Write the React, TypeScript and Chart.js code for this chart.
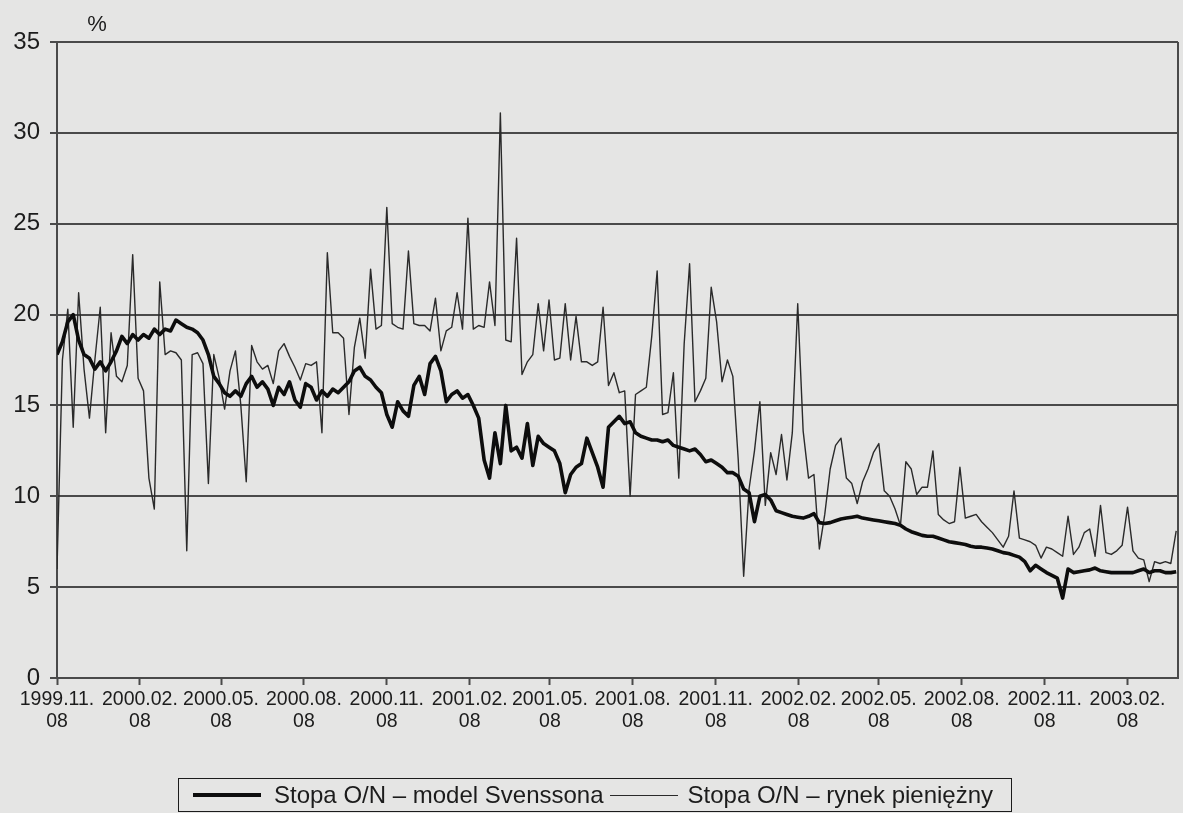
import React, { useEffect, useRef } from "react";
import { Chart, registerables } from "chart.js";

Chart.register(...registerables);

// ---------- data ----------
const START_DATE = "1999-11-08";
const STEP_DAYS = 6; // one reading every 6 calendar days
const X_MAX_DAYS = 1244;

const tickDates = [
  "1999-11-08", "2000-02-08", "2000-05-08", "2000-08-08", "2000-11-08",
  "2001-02-08", "2001-05-08", "2001-08-08", "2001-11-08", "2002-02-08",
  "2002-05-08", "2002-08-08", "2002-11-08", "2003-02-08",
];
const tickLabels = [
  ["1999.11.", "08"], ["2000.02.", "08"], ["2000.05.", "08"], ["2000.08.", "08"],
  ["2000.11.", "08"], ["2001.02.", "08"], ["2001.05.", "08"], ["2001.08.", "08"],
  ["2001.11.", "08"], ["2002.02.", "08"], ["2002.05.", "08"], ["2002.08.", "08"],
  ["2002.11.", "08"], ["2003.02.", "08"],
];
const yTicks = [0, 5, 10, 15, 20, 25, 30, 35];
const seriesNames = ["Stopa O/N \u2013 model Svenssona", "Stopa O/N \u2013 rynek pieni\u0119\u017cny"];

const modelSvensson = [
  17.8, 18.5, 19.6, 20.0, 18.6, 17.8, 17.6, 17.0, 17.4, 16.9,
  17.4, 18.0, 18.8, 18.4, 18.9, 18.6, 18.9, 18.7, 19.2, 18.9,
  19.2, 19.1, 19.7, 19.5, 19.3, 19.2, 19.0, 18.6, 17.8, 16.6,
  16.2, 15.7, 15.5, 15.8, 15.5, 16.2, 16.6, 16.0, 16.3, 15.9,
  15.0, 16.0, 15.6, 16.3, 15.3, 14.9, 16.2, 16.0, 15.3, 15.8,
  15.5, 15.9, 15.7, 16.0, 16.3, 16.9, 17.1, 16.6, 16.4, 16.0,
  15.7, 14.5, 13.8, 15.2, 14.7, 14.4, 16.1, 16.6, 15.6, 17.3,
  17.7, 16.9, 15.2, 15.6, 15.8, 15.4, 15.6, 15.0, 14.3, 12.0,
  11.0, 13.5, 11.8, 15.0, 12.5, 12.7, 12.1, 14.0, 11.7, 13.3,
  12.9, 12.7, 12.5, 11.8, 10.2, 11.2, 11.6, 11.8, 13.2, 12.4,
  11.6, 10.5, 13.8, 14.1, 14.4, 14.0, 14.1, 13.5, 13.3, 13.2,
  13.1, 13.1, 13.0, 13.1, 12.8, 12.7, 12.6, 12.5, 12.6, 12.3,
  11.9, 12.0, 11.8, 11.6, 11.3, 11.3, 11.1, 10.4, 10.2, 8.6,
  10.0, 10.1, 9.8, 9.2, 9.1, 9.0, 8.9, 8.85, 8.8, 8.9,
  9.05, 8.55, 8.5, 8.55, 8.65, 8.75, 8.8, 8.85, 8.9, 8.8,
  8.75, 8.7, 8.65, 8.6, 8.55, 8.5, 8.4, 8.2, 8.05, 7.95,
  7.85, 7.8, 7.8, 7.7, 7.6, 7.5, 7.45, 7.4, 7.35, 7.25,
  7.2, 7.2, 7.15, 7.1, 7.0, 6.9, 6.85, 6.75, 6.65, 6.4,
  5.9, 6.2, 6.0, 5.8, 5.65, 5.5, 4.4, 6.0, 5.8, 5.85,
  5.9, 5.95, 6.05, 5.9, 5.85, 5.8, 5.8, 5.8, 5.8, 5.8,
  5.9, 6.0, 5.8, 5.9, 5.9, 5.8, 5.8, 5.85,
];

const marketRate = [
  6.0, 17.5, 20.3, 13.8, 21.2, 17.0, 14.3, 17.5, 20.4, 13.5,
  19.0, 16.6, 16.3, 17.2, 23.3, 16.5, 15.8, 11.0, 9.3, 21.8,
  17.8, 18.0, 17.9, 17.5, 7.0, 17.8, 17.9, 17.3, 10.7, 17.8,
  16.5, 14.8, 16.9, 18.0, 15.0, 10.8, 18.3, 17.4, 17.0, 17.2,
  16.2, 18.0, 18.4, 17.7, 17.1, 16.4, 17.3, 17.2, 17.4, 13.5,
  23.4, 19.0, 19.0, 18.7, 14.5, 18.2, 19.8, 17.6, 22.5, 19.2,
  19.4, 25.9, 19.5, 19.3, 19.2, 23.5, 19.5, 19.4, 19.4, 19.1,
  20.9, 18.0, 19.1, 19.3, 21.2, 19.2, 25.3, 19.2, 19.4, 19.3,
  21.8, 19.4, 31.1, 18.6, 18.5, 24.2, 16.7, 17.4, 17.8, 20.6,
  18.0, 20.8, 17.5, 17.6, 20.6, 17.5, 19.9, 17.4, 17.4, 17.2,
  17.4, 20.4, 16.1, 16.8, 15.7, 15.8, 10.0, 15.6, 15.8, 16.0,
  18.8, 22.4, 14.5, 14.6, 16.8, 11.0, 18.4, 22.8, 15.2, 15.8,
  16.5, 21.5, 19.6, 16.3, 17.5, 16.6, 12.0, 5.6, 10.4, 12.5,
  15.2, 9.5, 12.4, 11.2, 13.4, 10.9, 13.5, 20.6, 13.6, 11.0,
  11.2, 7.1, 9.0, 11.5, 12.8, 13.2, 11.0, 10.7, 9.6, 10.8,
  11.5, 12.4, 12.9, 10.3, 10.0, 9.3, 8.4, 11.9, 11.5, 10.1,
  10.5, 10.5, 12.5, 9.0, 8.7, 8.5, 8.6, 11.6, 8.8, 8.9,
  9.0, 8.6, 8.3, 8.0, 7.6, 7.2, 7.8, 10.3, 7.7, 7.6,
  7.5, 7.3, 6.6, 7.2, 7.1, 6.9, 6.7, 8.9, 6.8, 7.2,
  8.0, 8.2, 6.7, 9.5, 6.9, 6.8, 7.0, 7.3, 9.4, 7.0,
  6.6, 6.5, 5.3, 6.4, 6.3, 6.4, 6.3, 8.1,
];

// ---------- helpers ----------
const DAY_MS = 86400000;
const dayOffset = (d: string) => Math.round((Date.parse(d) - Date.parse(START_DATE)) / DAY_MS);
const tickDays = tickDates.map(dayOffset);
const toPoints = (vals: number[]) => vals.map((v, i) => ({ x: i * STEP_DAYS, y: v }));

const FONT = '"Liberation Sans", Arial, Helvetica, sans-serif';
const BG = "#e5e5e4";
const INK = "#1c1c1c";
const GRID = "#4a4a4a";

const decorPlugin = {
  id: "decor",
  beforeDraw(chart: any) {
    const { ctx, width, height } = chart;
    ctx.save();
    ctx.fillStyle = BG;
    ctx.fillRect(0, 0, width, height);
    ctx.restore();
  },
  afterDraw(chart: any) {
    const { ctx, chartArea } = chart;
    ctx.save();
    ctx.strokeStyle = GRID;
    ctx.lineWidth = 2;
    ctx.beginPath();
    ctx.moveTo(chartArea.right, chartArea.top);
    ctx.lineTo(chartArea.right, chartArea.bottom);
    ctx.stroke();
    ctx.fillStyle = INK;
    ctx.font = `22px ${FONT}`;
    ctx.textAlign = "center";
    ctx.textBaseline = "middle";
    ctx.fillText("%", chartArea.left + 40, chartArea.top - 17);
    ctx.restore();
  },
};

export default function App() {
  const canvasRef = useRef<HTMLCanvasElement | null>(null);

  useEffect(() => {
    if (!canvasRef.current) return;
    const chart = new Chart(canvasRef.current, {
      type: "line",
      data: {
        datasets: [
          {
            label: seriesNames[0],
            data: toPoints(modelSvensson),
            borderColor: "#0d0d0d",
            borderWidth: 3.6,
            pointRadius: 0,
            tension: 0,
            borderJoinStyle: "round",
          },
          {
            label: seriesNames[1],
            data: toPoints(marketRate),
            borderColor: "#2a2a2a",
            borderWidth: 1.4,
            pointRadius: 0,
            tension: 0,
            borderJoinStyle: "round",
          },
        ],
      },
      options: {
        animation: false,
        responsive: true,
        maintainAspectRatio: false,
        parsing: false,
        normalized: true,
        layout: { padding: { top: 42, right: 5, left: 0, bottom: 0 } },
        plugins: {
          legend: { display: false },
          tooltip: { enabled: false },
        },
        scales: {
          x: {
            type: "linear",
            min: 0,
            max: X_MAX_DAYS,
            afterBuildTicks: (scale: any) => {
              scale.ticks = tickDays.map((v) => ({ value: v }));
            },
            afterFit: (scale: any) => {
              scale.height = 135;
            },
            ticks: {
              autoSkip: false,
              maxRotation: 0,
              minRotation: 0,
              padding: 3,
              color: INK,
              font: { family: FONT, size: 19.5, lineHeight: 1.15 },
              callback: (_v: any, i: number) => tickLabels[i],
            },
            grid: {
              drawOnChartArea: false,
              drawTicks: true,
              tickLength: 7,
              tickColor: GRID,
              tickWidth: 2,
            },
            border: { display: true, color: GRID, width: 2 },
          },
          y: {
            min: 0,
            max: 35,
            afterBuildTicks: (scale: any) => {
              scale.ticks = yTicks.map((v) => ({ value: v }));
            },
            afterFit: (scale: any) => {
              scale.width = 57;
            },
            ticks: {
              padding: 10,
              color: INK,
              font: { family: FONT, size: 24 },
            },
            grid: {
              color: GRID,
              lineWidth: 2,
              drawTicks: true,
              tickLength: 7,
              tickColor: GRID,
            },
            border: { display: true, color: GRID, width: 2 },
          },
        },
      },
      plugins: [decorPlugin],
    } as any);
    return () => chart.destroy();
  }, []);

  return (
    <div
      style={{
        position: "fixed",
        left: 0,
        top: 0,
        width: 1183,
        height: 813,
        background: BG,
        fontFamily: FONT,
      }}
    >
      <canvas ref={canvasRef} />
      <div
        style={{
          position: "absolute",
          left: 178,
          top: 778,
          width: 834,
          height: 34,
          boxSizing: "border-box",
          border: `1.5px solid ${INK}`,
          display: "flex",
          alignItems: "center",
          fontSize: 24,
          color: INK,
          whiteSpace: "nowrap",
        }}
      >
        <span style={{ display: "inline-block", width: 68, borderTop: "4px solid #0d0d0d", marginLeft: 14 }} />
        <span style={{ marginLeft: 13 }}>{seriesNames[0]}</span>
        <span style={{ display: "inline-block", width: 68, borderTop: "1.5px solid #2a2a2a", marginLeft: 6 }} />
        <span style={{ marginLeft: 10 }}>{seriesNames[1]}</span>
      </div>
    </div>
  );
}
